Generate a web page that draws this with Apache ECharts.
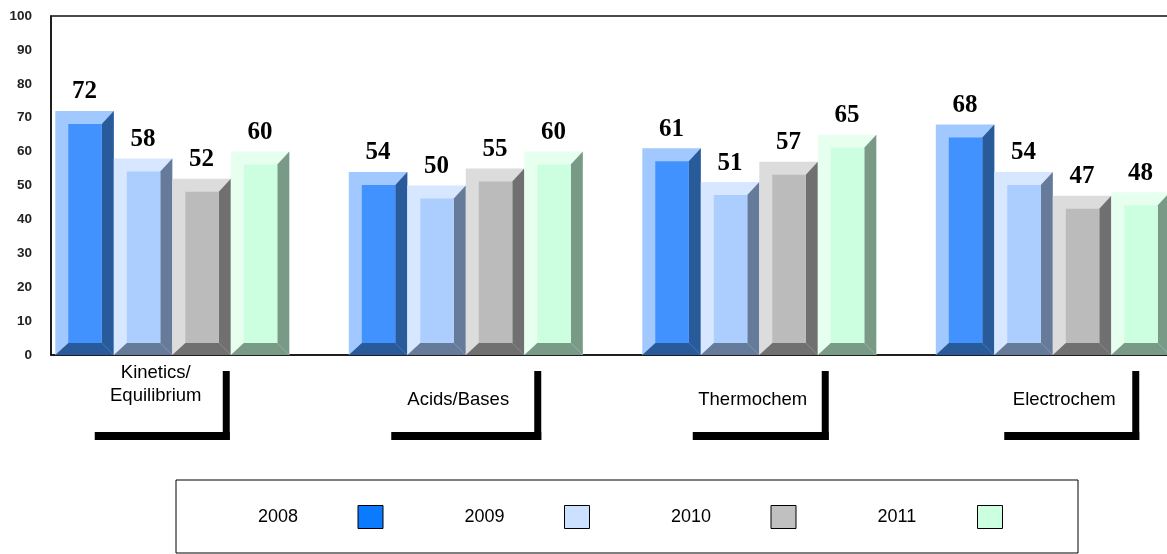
<!DOCTYPE html>
<html>
<head>
<meta charset="utf-8">
<script src="https://cdn.jsdelivr.net/npm/echarts@6/dist/echarts.min.js"></script>
<style>
html,body{margin:0;padding:0;background:#fff;}
#chart{width:1167px;height:554px;}
</style>
</head>
<body>
<div id="chart"></div>
<script>
// ---- data ----
var categories = ['Kinetics/\nEquilibrium', 'Acids/Bases', 'Thermochem', 'Electrochem'];
var years = ['2008', '2009', '2010', '2011'];
var v2008 = [72, 54, 61, 68];
var v2009 = [58, 50, 51, 54];
var v2010 = [52, 55, 57, 47];
var v2011 = [60, 60, 65, 48];
var yTicks = [0, 10, 20, 30, 40, 50, 60, 70, 80, 90, 100];

// ---- styles / layout ----
var palettes = [
  {legend: '#0A7BFF', light: '#A2C9FF', face: '#4192FF', dark: '#295B9B'},
  {legend: '#CCE0FF', light: '#D6E7FF', face: '#ABCEFF', dark: '#667B99'},
  {legend: '#C0C0C0', light: '#DCDCDC', face: '#BBBBBB', dark: '#707070'},
  {legend: '#CCFFE0', light: '#E6FFEF', face: '#CCFFE0', dark: '#7A9A88'}
];
var L = {
  groupOffset: 4.3 / 293.5,
  barFrac: 58.5 / 293.5,
  bevel: 13,
  side: 12,
  labelGap: 19,
  // category label decorations, offsets from category centre (px)
  textDx: [-42, -33, -32, -14],
  textDy: [29.5, 45, 45, 45],
  boxLeft: [-103, -100, -92, -74],
  boxRight: [32, 50, 44, 61]
};

var seriesValues = [v2008, v2009, v2010, v2011];

function barRender(si) {
  var pal = palettes[si];
  return function (params, api) {
    var cat = api.value(0), val = api.value(1);
    var top = api.coord([cat, val]);
    var base = api.coord([cat, 0]);
    var band = api.size([1, 0])[0];
    var w = band * L.barFrac;
    var x0 = top[0] - band / 2 + band * L.groupOffset + si * w;
    var x1 = x0 + w, yt = top[1], yb = base[1];
    var b = L.bevel, s = L.side;
    return {
      type: 'group',
      children: [
        {type: 'rect', shape: {x: x0, y: yt, width: w, height: yb - yt}, style: {fill: pal.light}},
        {type: 'polygon', shape: {points: [[x1 - s, yt + b], [x1, yt], [x1, yb], [x1 - s, yb - s]]}, style: {fill: pal.dark}},
        {type: 'polygon', shape: {points: [[x0, yb], [x0 + b, yb - s], [x1 - s, yb - s], [x1, yb]]}, style: {fill: pal.dark}},
        {type: 'rect', shape: {x: x0 + b, y: yt + b, width: w - b - s, height: (yb - s) - (yt + b)}, style: {fill: pal.face}},
        {type: 'text', x: (x0 + x1) / 2, y: yt - L.labelGap,
          style: {text: String(val), fill: '#000', align: 'center', verticalAlign: 'middle',
            font: 'bold 25px "Liberation Serif", "Times New Roman", serif'}}
      ]
    };
  };
}

var series = seriesValues.map(function (vals, si) {
  return {
    name: years[si],
    type: 'custom',
    renderItem: barRender(si),
    itemStyle: {color: palettes[si].legend, borderColor: '#000', borderWidth: 1},
    encode: {x: 0, y: 1},
    clip: false,
    data: vals.map(function (v, i) { return [i, v]; }),
    z: 2
  };
});

series.push({
  name: 'catLabels',
  type: 'custom',
  silent: true,
  clip: false,
  encode: {x: 0, y: 1},
  data: categories.map(function (c, i) { return [i, 0]; }),
  renderItem: function (params, api) {
    var i = api.value(0);
    var p = api.coord([i, 0]);
    var cx = p[0], y0 = p[1];
    return {
      type: 'group',
      children: [
        {type: 'text', x: cx + L.textDx[i], y: y0 + L.textDy[i],
          style: {text: categories[i], fill: '#000', align: 'center', verticalAlign: 'middle',
            font: '18.5px "Liberation Sans", Arial, sans-serif', lineHeight: 23}},
        {type: 'rect', shape: {x: cx + L.boxRight[i] - 7, y: y0 + 16, width: 7, height: 69}, style: {fill: '#000'}},
        {type: 'rect', shape: {x: cx + L.boxLeft[i], y: y0 + 77, width: L.boxRight[i] - L.boxLeft[i], height: 8}, style: {fill: '#000'}}
      ]
    };
  },
  z: 3
});

var chart = echarts.init(document.getElementById('chart'), null, {renderer: 'canvas'});
chart.setOption({
  animation: false,
  backgroundColor: '#fff',
  grid: {left: 51, top: 16, bottom: 199, width: 1174, outerBoundsMode: 'none', containLabel: false,
    show: true, borderColor: '#111', borderWidth: 1.5, backgroundColor: 'transparent'},
  xAxis: {
    type: 'category',
    data: categories,
    axisLine: {show: true, lineStyle: {color: '#111', width: 1.5}},
    axisTick: {show: false},
    axisLabel: {show: false},
    splitLine: {show: false}
  },
  yAxis: {
    type: 'value',
    min: 0, max: 100, interval: 10,
    axisLine: {show: true, lineStyle: {color: '#111', width: 1.5}},
    axisTick: {show: false},
    splitLine: {show: false},
    axisLabel: {
      margin: 19, color: '#222', fontSize: 13.5, fontWeight: 'bold',
      fontFamily: '"Liberation Sans", Arial, sans-serif',
      formatter: function (v) { return yTicks.indexOf(v) >= 0 ? String(v) : ''; }
    }
  },
  legend: {
    data: years,
    left: 176, top: 480,
    orient: 'horizontal',
    align: 'right',
    icon: 'rect',
    itemWidth: 25, itemHeight: 23,
    itemGap: 81,
    padding: [25, 75, 24, 82],
    borderColor: '#000', borderWidth: 1,
    backgroundColor: '#fff',
    selectedMode: false,
    itemStyle: {borderColor: '#000', borderWidth: 1},
    formatter: '{t|{name}}',
    textStyle: {
      color: '#000', fontSize: 18, fontFamily: '"Liberation Sans", Arial, sans-serif',
      rich: {t: {width: 95, align: 'left', fontSize: 18, fontFamily: '"Liberation Sans", Arial, sans-serif', color: '#000'}}
    }
  },
  series: series
});
</script>
</body>
</html>
